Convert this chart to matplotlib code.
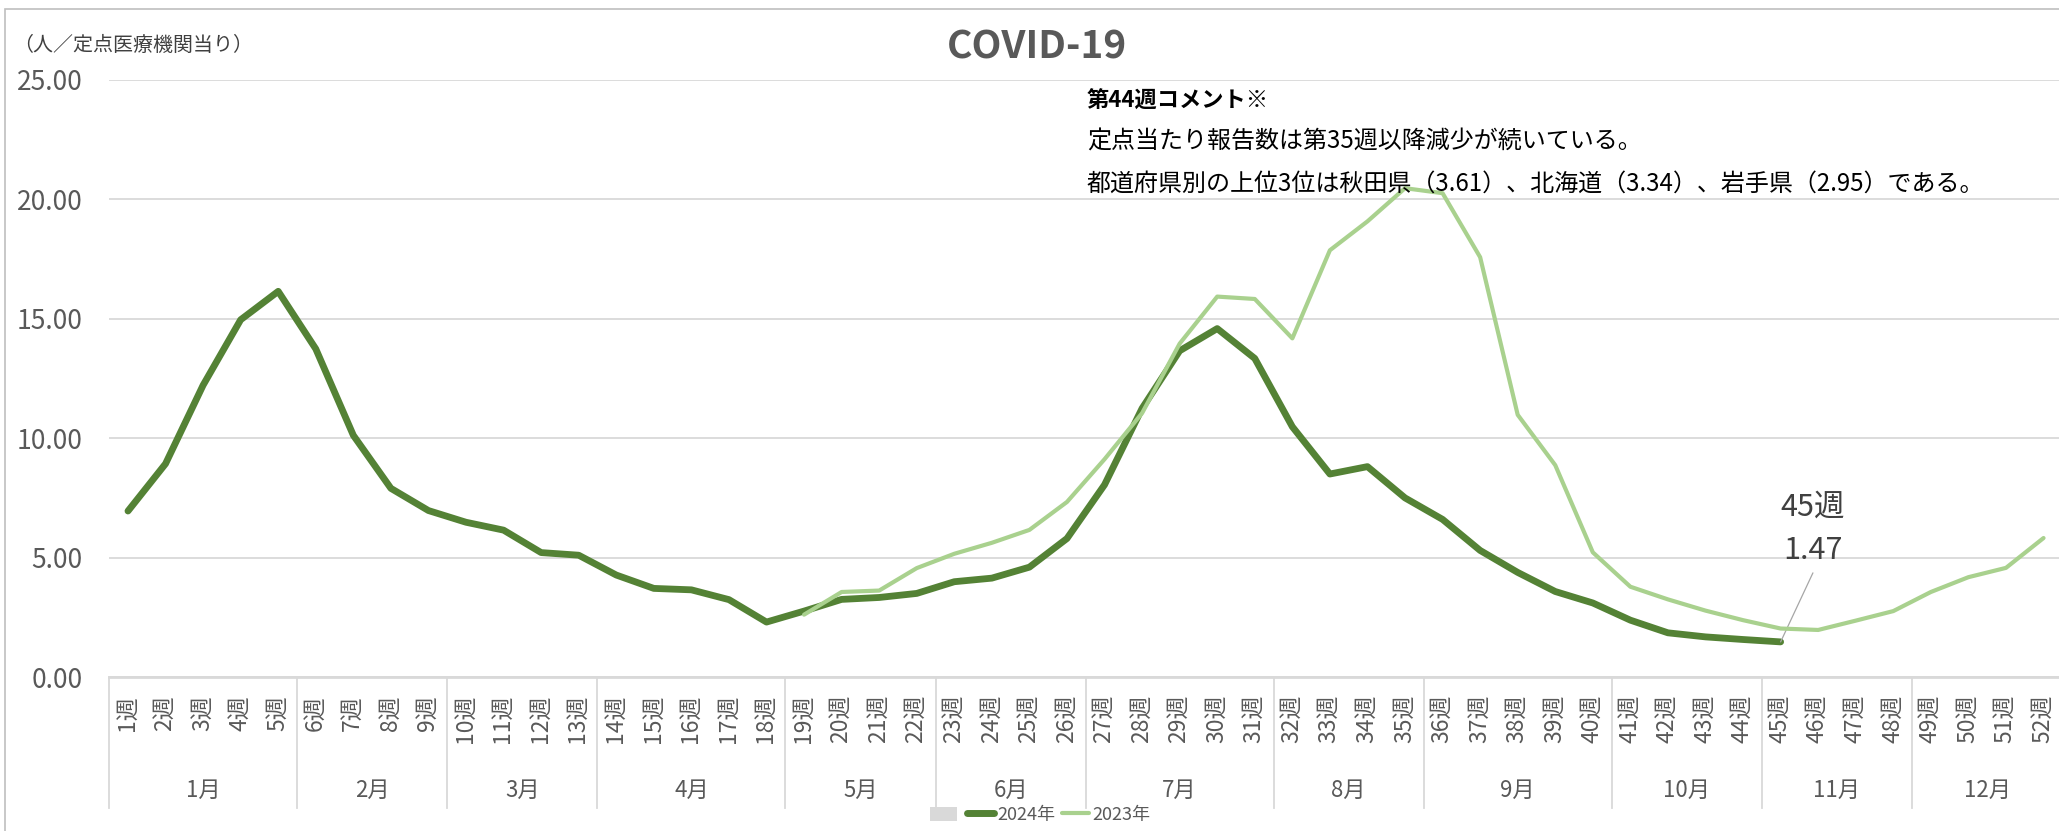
import matplotlib
matplotlib.use("Agg")
import matplotlib.pyplot as plt
import matplotlib.transforms as mtransforms
from matplotlib.patches import Patch, Rectangle
from matplotlib.lines import Line2D
import numpy as np

plt.rcParams['font.family'] = ['Noto Sans CJK JP', 'DejaVu Sans']

# ---------------- data ----------------
title = "COVID-19"
y_unit = "（人／定点医療機関当り）"
week_labels = [f"{i}週" for i in range(1, 53)]
month_names = ["1月", "2月", "3月", "4月", "5月", "6月", "7月", "8月", "9月", "10月", "11月", "12月"]
month_sizes = [5, 4, 4, 5, 4, 4, 5, 4, 5, 4, 4, 4]

values_2024 = [6.95, 8.93, 12.22, 14.96, 16.15, 13.74, 10.12, 7.90, 6.97, 6.48,
               6.15, 5.21, 5.10, 4.27, 3.71, 3.65, 3.24, 2.30, 2.76, 3.25,
               3.33, 3.50, 3.99, 4.14, 4.60, 5.80, 8.05, 11.25, 13.66, 14.59,
               13.34, 10.48, 8.50, 8.81, 7.50, 6.60, 5.30, 4.38, 3.58, 3.10,
               2.38, 1.85, 1.68, 1.57, 1.47]
values_2023 = [None] * 18 + [
               2.61, 3.56, 3.62, 4.56, 5.16, 5.62, 6.16, 7.33, 9.12, 11.05,
               13.96, 15.93, 15.83, 14.18, 17.87, 19.08, 20.47, 20.26, 17.58, 10.98,
               8.87, 5.22, 3.78, 3.25, 2.78, 2.38, 2.03, 1.97, 2.36, 2.76,
               3.56, 4.18, 4.57, 5.82]

comment_head = "第44週コメント※"
comment_lines = ["定点当たり報告数は第35週以降減少が続いている。",
                 "都道府県別の上位3位は秋田県（3.61）、北海道（3.34）、岩手県（2.95）である。"]
legend_labels = ["", "2024年", "2023年"]

# ---------------- styling ----------------
W, H = 2059, 831
DARK = "#548235"
LIGHT = "#A9D18E"
GRID = "#D9D9D9"
TXT = "#595959"

fig = plt.figure(figsize=(W / 100, H / 100), dpi=100)
ax_left, ax_bottom = 109.2, 677
ax_w, ax_h = 52 * 37.56, 677 - 80
ax = fig.add_axes([ax_left / W, 1 - ax_bottom / H, ax_w / W, ax_h / H])

x = np.arange(1, 53)
y24 = np.array(values_2024, dtype=float)
y23 = np.array([np.nan if v is None else v for v in values_2023], dtype=float)

ax.plot(x[:len(y24)], y24, color=DARK, lw=4.9, solid_capstyle='round',
        solid_joinstyle='round', zorder=3)
ax.plot(x, y23, color=LIGHT, lw=3.0, solid_capstyle='round',
        solid_joinstyle='round', zorder=4)

ax.set_xlim(0.5, 52.5)
ax.set_ylim(0, 25)
ax.set_yticks(np.arange(0, 26, 5))
ax.set_yticklabels([f"{v:.2f}" for v in np.arange(0, 26, 5)])
ax.yaxis.grid(True, color=GRID, lw=1.3)
ax.set_axisbelow(True)
for s in ["top", "right", "left"]:
    ax.spines[s].set_visible(False)
ax.spines["bottom"].set_color(GRID)
ax.spines["bottom"].set_linewidth(2)
ax.tick_params(axis='y', length=0, pad=19, labelsize=19, labelcolor=TXT)

ax.set_xticks(x)
ax.set_xticklabels(week_labels, rotation=90, va='top', ha='center')
ax.tick_params(axis='x', length=0, pad=13, labelsize=16.5, labelcolor=TXT)

# month group labels and separators
trans = mtransforms.blended_transform_factory(ax.transData, ax.transAxes)
bounds = np.concatenate([[0], np.cumsum(month_sizes)]) + 0.5
sep_bottom = (677 - 808) / ax_h
label_y = (677 - 790) / ax_h
for b in bounds:
    ax.plot([b, b], [0, sep_bottom], transform=trans, color=GRID, lw=1.3,
            clip_on=False)
for name, a, b in zip(month_names, bounds[:-1], bounds[1:]):
    ax.text((a + b) / 2, label_y, name, transform=trans, ha='center',
            va='center', fontsize=16, color=TXT)

# data label for the latest week
last_w = len(y24)
ax.annotate("", xy=(last_w, y24[-1]), xytext=(last_w + 0.86, 4.36),
            arrowprops=dict(arrowstyle='-', color='#A6A6A6', lw=0.9,
                            shrinkA=0, shrinkB=0))
ax.text(last_w + 0.86, 7.12, week_labels[last_w - 1], ha='center', va='center',
        fontsize=22, color='#404040')
ax.text(last_w + 0.86, 5.28, f"{y24[-1]:.2f}", ha='center', va='center',
        fontsize=22, color='#404040')

# texts
fig.text(1037 / W, 1 - 47 / H, title, ha='center', va='center',
         fontsize=28, fontweight='bold', color=TXT)
fig.text(13 / W, 1 - 45 / H, y_unit, ha='left', va='center', fontsize=14.4,
         color='#404040')
fig.text(1087 / W, 1 - 101 / H, comment_head, ha='left', va='center',
         fontsize=16, fontweight='bold', color='black')
for i, line in enumerate(comment_lines):
    fig.text(1087 / W, 1 - (142 + 42 * i) / H, line, ha='left', va='center',
             fontsize=17.3, color='black')

# legend
handles = [Patch(facecolor=GRID, edgecolor='none'),
           Line2D([], [], color=DARK, lw=5, solid_capstyle='round'),
           Line2D([], [], color=LIGHT, lw=3, solid_capstyle='round')]
fig.legend(handles, legend_labels, loc='center', ncol=3,
           bbox_to_anchor=(1040 / W, 1 - 815 / H), frameon=False,
           fontsize=13, labelcolor=TXT, handlelength=1.5, handletextpad=0.15,
           columnspacing=0.4, handleheight=0.8, borderpad=0)

# chart border
fig.add_artist(Rectangle((5 / W, -0.1), 1.2, 1.1 - 9 / H, transform=fig.transFigure,
                         fill=False, edgecolor='#BFBFBF', lw=1.2))

fig.savefig("out.png", dpi=100)
